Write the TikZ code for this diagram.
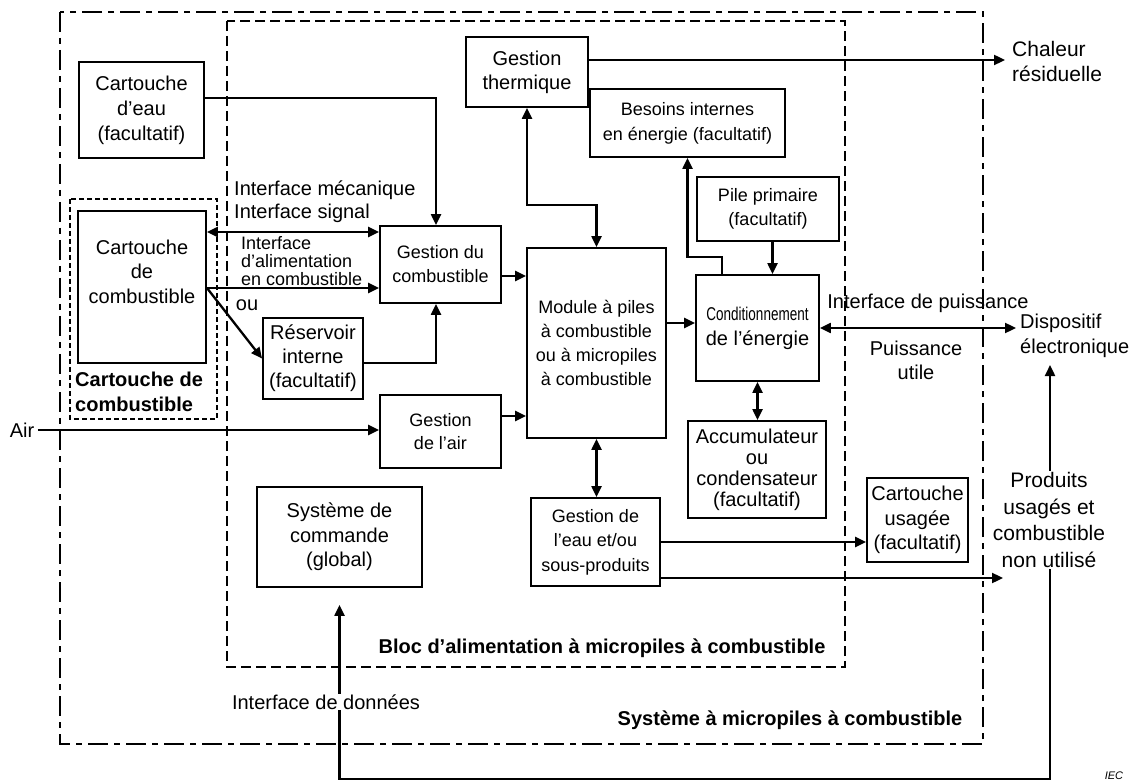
\documentclass[tikz,border=0pt]{standalone}
\usepackage{fontspec}
\setmainfont{Liberation Sans}
\newfontfamily\narrowf[FakeStretch=0.73]{Liberation Sans}
\usetikzlibrary{arrows.meta}
\newcommand\fsz[2]{\fontsize{#1}{#2}\selectfont}
\begin{document}
\begin{tikzpicture}[x=1pt,y=-1pt,
  box/.style={draw, line width=1.9pt, inner sep=0pt, align=center},
  conn/.style={line width=2.3pt, arrows={-Triangle[length=11pt,width=10pt]}},
  both/.style={line width=2.3pt, arrows={Triangle[length=11pt,width=10pt]-Triangle[length=11pt,width=10pt]}},
  odash/.style={line width=1.7pt, dash pattern=on 20pt off 6pt on 6pt off 6pt},
  idash/.style={line width=1.7pt, dash pattern=on 10pt off 5pt},
  cdash/.style={line width=1.7pt, dash pattern=on 5pt off 3pt},
  lbl/.style={inner sep=1pt, align=left}
]
\useasboundingbox (0,0) rectangle (1132,783);

% region frames
\draw[odash] (60,12) rectangle (983,744);
\draw[idash] (227,21) rectangle (845,667);
\draw[cdash] (70,199) rectangle (217,419);

% boxes
\node[box, minimum width=125pt, minimum height=96pt, font=\fsz{20}{25}] (eau) at (141.5,110) {Cartouche\\d’eau\\(facultatif)};
\node[box, minimum width=128pt, minimum height=152pt, font=\fsz{20}{24.5}] (comb) at (142,287) {Cartouche\\de\\combustible\\[6pt]};
\node[box, minimum width=121pt, minimum height=77pt, font=\fsz{18}{24}] (gcomb) at (440.5,264.5) {Gestion du\\combustible};
\node[box, minimum width=100pt, minimum height=81pt, font=\fsz{20}{24}] (res) at (313,358.5) {Réservoir\\interne\\(facultatif)};
\node[box, minimum width=121pt, minimum height=73pt, font=\fsz{18}{23}] (gair) at (440.5,431.5) {Gestion\\de l’air};
\node[box, minimum width=139pt, minimum height=190pt, font=\fsz{18}{24}] (module) at (596.5,343) {Module à piles\\à combustible\\ou à micropiles\\à combustible};
\node[box, minimum width=122pt, minimum height=70pt, font=\fsz{20}{24}] (therm) at (527,72) {Gestion\\thermique};
\node[box, minimum width=195pt, minimum height=68pt, font=\fsz{18}{25}] (besoins) at (687.5,123) {Besoins internes\\en énergie (facultatif)};
\node[box, minimum width=142pt, minimum height=64pt, font=\fsz{18}{24}] (pile) at (768,209) {Pile primaire\\(facultatif)};
\node[box, minimum width=123pt, minimum height=106pt, font=\fsz{20}{25}] (cond) at (757.5,328) {{\narrowf\fsz{18.5}{25}Conditionnement}\\de l’énergie};
\node[box, minimum width=138pt, minimum height=97pt, font=\fsz{20}{21}] (accu) at (757,469.5) {Accumulateur\\ou\\condensateur\\(facultatif)};
\node[box, minimum width=101pt, minimum height=84pt, font=\fsz{20}{24.5}] (usagee) at (917.5,520) {Cartouche\\usagée\\(facultatif)};
\node[box, minimum width=129pt, minimum height=88pt, font=\fsz{18}{24.5}] (geau) at (595.5,542) {Gestion de\\l’eau et/ou\\sous-produits};
\node[box, minimum width=165pt, minimum height=100pt, font=\fsz{20}{24.5}] (syst) at (339.5,537) {Système de\\commande\\(global)};

% labels
\node[lbl, anchor=west, font=\fsz{20}{24}] (imeca) at (233,190) {Interface mécanique};
\node[lbl, anchor=west, font=\fsz{20}{24}] (isig) at (233,213) {Interface signal};
\node[lbl, anchor=west, font=\fsz{18}{18}] (ialim) at (240,261) {Interface\\d’alimentation\\en combustible};
\node[font=\fsz{20}{24}] (ou) at (247,305) {ou};
\node[lbl, anchor=west, font={\fsz{20}{24.5}\bfseries}] (cartlbl) at (74,392) {Cartouche de\\combustible};
\node[font=\fsz{20}{24}] (air) at (22,430) {Air};
\node[lbl, anchor=west, font=\fsz{21}{25}] (chal) at (1011,61) {Chaleur\\résiduelle};
\node[font=\fsz{20}{24}] (ipuis) at (928,303) {Interface de puissance};
\node[font=\fsz{20}{24}, align=center] (putile) at (916,360) {Puissance\\utile};
\node[lbl, anchor=west, font=\fsz{20}{25}] (disp) at (1019,336) {Dispositif\\électronique};
\node[font={\fsz{20}{24}\bfseries}] (bloc) at (602,648) {Bloc d’alimentation à micropiles à combustible};
\node[font={\fsz{20}{24}\bfseries}] (sysl) at (790,720) {Système à micropiles à combustible};
\node[font={\fsz{11}{12}\itshape}, inner sep=0pt] (iec) at (1114,776) {IEC};

% helper coordinates
\coordinate (Y98) at (0,98);
\coordinate (Y232) at (0,232);
\coordinate (Y288) at (0,288);
\coordinate (Y363) at (0,363);
\coordinate (Y276) at (0,276);
\coordinate (Y416) at (0,416);
\coordinate (Y323) at (0,323);
\coordinate (X436) at (436,0);
\coordinate (heat) at (1005,60);
\coordinate (ptip) at (1016,328);
\coordinate (wtip) at (1003,578);
\coordinate (ybot) at (0,779);
\coordinate (dtip) at (1050,365);

% connectors
\draw[conn] (eau.east |- Y98) -| (X436 |- gcomb.north);
\draw[both] (comb.east |- Y232) -- (gcomb.west |- Y232);
\draw[conn] (comb.east |- Y288) -- (gcomb.west |- Y288);
\draw[conn] (comb.east |- Y288) -- (res.west);
\draw[conn] (res.east |- Y363) -| (X436 |- gcomb.south);
\draw[conn] (air.east) -- (gair.west |- air.east);
\draw[conn] (gcomb.east |- Y276) -- (module.west |- Y276);
\draw[conn] (gair.east |- Y416) -- (module.west |- Y416);
\draw[conn] (module.east |- Y323) -- (cond.west |- Y323);
\draw[both] (therm.south) -- ++(0,97) -| (module.north);
\draw[conn] (therm.east |- heat) -- (heat);
\draw[conn] ([xshift=-35.5pt]cond.north) -- ++(0,-17) -| (besoins.south);
\draw[conn] ([xshift=4.5pt]pile.south) -- ([xshift=15pt]cond.north);
\draw[both] (cond.south) -- (cond.south |- accu.north);
\draw[both] (cond.east) -- (ptip);
\draw[both] (module.south) -- (module.south |- geau.north);
\draw[conn] (geau.east) -- (usagee.west |- geau.east);
\draw[conn] ([yshift=-36pt]geau.east) -- (wtip);
\draw[both] ([yshift=-17pt]syst.south) -- (syst.south |- ybot) -| (dtip);

% labels drawn over the data line
\node[font=\fsz{21}{26.7}, align=center, fill=white, inner sep=1pt] (prod) at (1049,520) {Produits\\usagés et\\combustible\\non utilisé};
\node[font=\fsz{20}{24}, fill=white, inner sep=1pt] (idata) at (326,702) {Interface de données};
\end{tikzpicture}
\end{document}
